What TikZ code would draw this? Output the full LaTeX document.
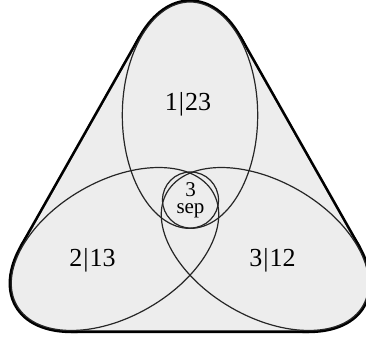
\documentclass[tikz,border=0pt]{standalone}
\usepackage{fontspec}
\setmainfont{Liberation Serif}
\begin{document}
\begin{tikzpicture}[x=1pt,y=1pt,
  hullline/.style={line width=5.4pt, line join=round, black},
  regionfill/.style={fill=black!7},
  thinline/.style={line width=1.2pt, black!85},
  biglabel/.style={anchor=base, inner sep=0pt, font=\fontsize{26}{30}\selectfont},
  smalllabel/.style={anchor=center, inner sep=0pt, align=center, font=\fontsize{21}{17}\selectfont}]
\clip (0,0) rectangle (366,342);
\useasboundingbox (0,0) rectangle (366,342);
% hull tangent points
\coordinate (ta) at (140.8,304.6);
\coordinate (tb) at (22.1,95.05);
\coordinate (tc) at (71.3,11.5);
\coordinate (td) at (308.7,11.5);
\coordinate (te) at (357.9,95.05);
\coordinate (tf) at (239.2,304.6);
% outer thick outline (convex hull)
\draw[hullline] (190,226.8) ellipse [x radius=67.7, y radius=113.2];
\draw[hullline, shift={(115,93)}, rotate=30] (0,0) ellipse [x radius=113.2, y radius=67.7];
\draw[hullline, shift={(265,93)}, rotate=-30] (0,0) ellipse [x radius=113.2, y radius=67.7];
\draw[hullline] (ta) -- (tb) -- (tc) -- (td) -- (te) -- (tf) -- cycle;
% interior fill
\fill[regionfill] (190,226.8) ellipse [x radius=67.7, y radius=113.2];
\fill[regionfill, shift={(115,93)}, rotate=30] (0,0) ellipse [x radius=113.2, y radius=67.7];
\fill[regionfill, shift={(265,93)}, rotate=-30] (0,0) ellipse [x radius=113.2, y radius=67.7];
\fill[regionfill] (ta) -- (tb) -- (tc) -- (td) -- (te) -- (tf) -- cycle;
% thin ellipses and circle
\draw[thinline] (190,226.8) ellipse [x radius=67.7, y radius=113.2];
\draw[thinline, shift={(115,93)}, rotate=30] (0,0) ellipse [x radius=113.2, y radius=67.7];
\draw[thinline, shift={(265,93)}, rotate=-30] (0,0) ellipse [x radius=113.2, y radius=67.7];
\draw[thinline] (190.5,142) circle [radius=28];
% labels
\node[biglabel] (l1) at (188,231) {1\kern1pt|\kern1pt23};
\node[biglabel] (l2) at (92.5,75.3) {2\kern1pt|\kern1pt13};
\node[biglabel] (l3) at (272.5,75.3) {3\kern1pt|\kern1pt12};
\node[smalllabel] (sep) at (190.5,142) {3\\sep};
\end{tikzpicture}
\end{document}
